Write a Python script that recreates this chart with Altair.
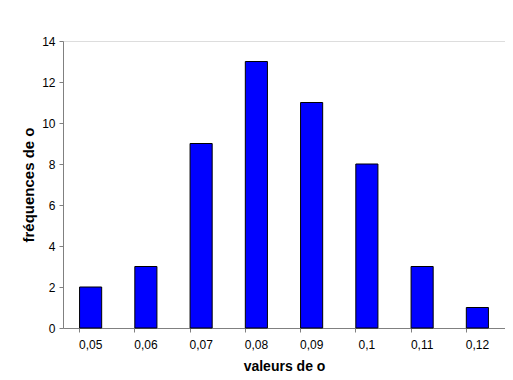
import altair as alt
import pandas as pd

categories = ["0,05", "0,06", "0,07", "0,08", "0,09", "0,1", "0,11", "0,12"]
frequences = [2, 3, 9, 13, 11, 8, 3, 1]
y_ticks = [0, 2, 4, 6, 8, 10, 12, 14]

df = pd.DataFrame({"valeur": categories, "freq": frequences})

font = "Liberation Sans"

chart = alt.Chart(df).mark_bar(
    color="#0000FF", stroke="#000000", strokeWidth=1
).encode(
    x=alt.X("valeur:N", sort=categories, title="valeurs de o",
            scale=alt.Scale(paddingInner=0.6, paddingOuter=0.3),
            axis=alt.Axis(labelAngle=0, bandPosition=0, domainColor="#808080",
                          tickColor="#808080", tickSize=4, labelPadding=7,
                          labelFont=font, labelFontSize=12, labelColor="#000000",
                          titleFont=font, titleFontSize=14, titleFontWeight="bold",
                          titlePadding=9, titleColor="#000000", grid=False)),
    y=alt.Y("freq:Q", title="fréquences de o",
            scale=alt.Scale(domain=[0, 14], nice=False),
            axis=alt.Axis(values=y_ticks, domainColor="#808080", tickColor="#808080",
                          tickSize=4, labelPadding=4,
                          labelFont=font, labelFontSize=12, labelColor="#000000",
                          titleFont=font, titleFontSize=15, titleFontWeight="bold",
                          titlePadding=5, titleColor="#000000", grid=False)),
).properties(
    width=442, height=287,
    autosize=alt.AutoSizeParams(type="none"),
    padding={"left": 55, "top": 33, "right": 0, "bottom": 44},
).configure_view(stroke=None).configure(background="#FFFFFF")

chart.save("out.html", embed_options={"renderer": "svg", "actions": False})
